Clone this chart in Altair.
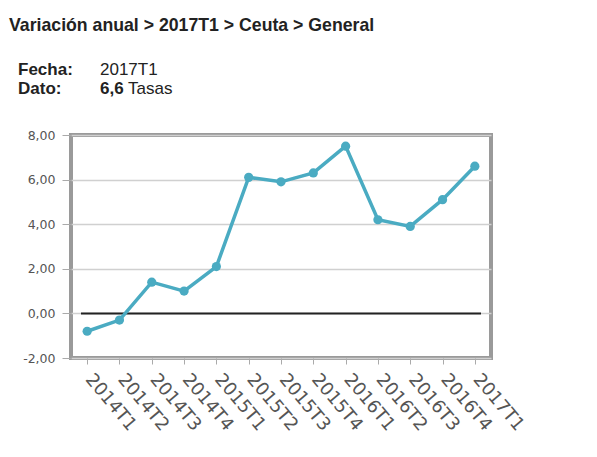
import altair as alt
import pandas as pd

periods = ["2014T1", "2014T2", "2014T3", "2014T4", "2015T1", "2015T2", "2015T3",
           "2015T4", "2016T1", "2016T2", "2016T3", "2016T4", "2017T1"]
values = [-0.8, -0.3, 1.4, 1.0, 2.1, 6.1, 5.9, 6.3, 7.5, 4.2, 3.9, 5.1, 6.6]

title_text = "Variación anual > 2017T1 > Ceuta > General"
fecha_label = "Fecha:"
fecha_value = "2017T1"
dato_label = "Dato:"
dato_value = "6,6"
dato_unit = "Tasas"

df = pd.DataFrame({"periodo": periods, "valor": values})

W, H = 420, 223
LINE = "#4aabc2"

x = alt.X("periodo:N", sort=periods, title=None,
          scale=alt.Scale(paddingInner=0, paddingOuter=0),
          axis=alt.Axis(labelAngle=50, labelAlign="left", labelBaseline="middle",
                        labelFont="DejaVu Sans", labelFontSize=18, labelColor="#555",
                        bandPosition=0, labelOffset=1, labelPadding=12,
                        tickColor="#aaa", tickSize=6, domain=False, grid=False))
y = alt.Y("valor:Q", title=None,
          scale=alt.Scale(domain=[-2, 8], nice=False),
          axis=alt.Axis(values=[-2, 0, 2, 4, 6, 8],
                        labelExpr="replace(replace(format(datum.value, '.2f'), '.', ','), '\u2212', '-')",
                        labelFont="DejaVu Sans", labelFontSize=12.5, labelColor="#555",
                        tickColor="#aaa", tickSize=9, labelPadding=7,
                        domain=False, grid=True, gridColor="#d0d0d0", gridWidth=1.5))

base = alt.Chart(df)

line = base.mark_line(color=LINE, strokeWidth=3.5).encode(x=x, y=y)
pts = base.mark_circle(color=LINE, size=85, opacity=1).encode(x=x, y=y)

zero = alt.Chart(pd.DataFrame({"z": [0]})).mark_rule(color="#222", strokeWidth=2).encode(
    y=alt.Y("z:Q", scale=alt.Scale(domain=[-2, 8], nice=False)),
    x=alt.value(10), x2=alt.value(410))

def txt(t, xv, yv, size, weight, color="#222"):
    return alt.Chart(pd.DataFrame({"t": [t]})).mark_text(
        align="left", baseline="alphabetic", font="Liberation Sans",
        fontSize=size, fontWeight=weight, color=color).encode(
        text="t:N", x=alt.value(xv), y=alt.value(yv))

texts = [
    txt(title_text, -62, -104, 17.7, "bold"),
    txt(fecha_label, -53, -60, 17, "bold"),
    txt(fecha_value, 29, -60, 17, "normal"),
    txt(dato_label, -53, -41, 17, "bold"),
    txt(dato_value, 29, -41, 17, "bold"),
    txt(dato_unit, 57, -41, 17, "normal"),
]

chart = alt.layer(zero, line, pts, *texts).properties(
    width=W, height=H,
    autosize=alt.AutoSizeParams(type="none"),
    padding={"left": 71, "top": 135, "right": 106, "bottom": 99},
    background="white",
).configure_view(stroke="#9a9a9a", strokeWidth=4)

chart.save("out.html", embed_options={"renderer": "svg", "actions": False})
